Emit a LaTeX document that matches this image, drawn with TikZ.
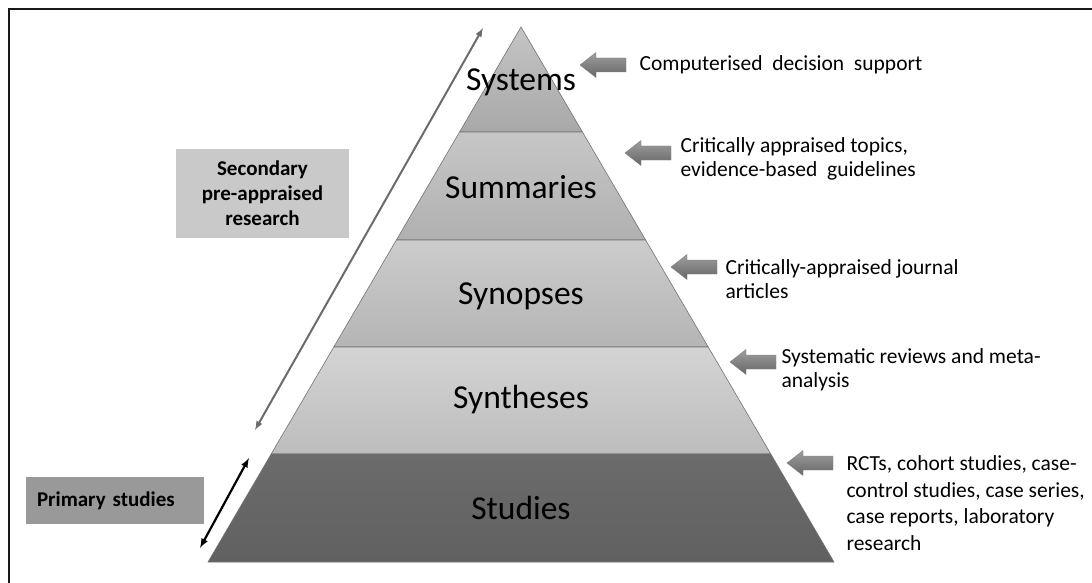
\documentclass[tikz,border=0pt]{standalone}
\usepackage{fontspec}
\setmainfont{Carlito}
\begin{document}
\begin{tikzpicture}[x=1pt,y=-1pt,>=latex,
  layerlabel/.style={font=\fontsize{33.5}{34}\selectfont},
  sidetext/.style={anchor=west,align=left,font=\fontsize{21.5}{24}\selectfont},
  graybox/.style={font=\bfseries\fontsize{21}{25}\selectfont,align=center}]
\useasboundingbox (0,0) rectangle (1092,583);
\draw[line width=2.5pt,color=black!90] (9,583) -- (9,9) -- (1092,9);
% pyramid layers, apex at (521,27)
\foreach \yt/\yb/\ct/\cb in {27/132/23/34,132/240/22/31,240/347/20/29,347/454/17/26,454/562/58/62}{
	\shade[top color=black!\ct,bottom color=black!\cb,draw=black!55,line width=0.6pt]
	  ({521-0.585*(\yt-27)},\yt) -- ({521+0.585*(\yt-27)},\yt)
	  -- ({521+0.585*(\yb-27)},\yb) -- ({521-0.585*(\yb-27)},\yb) -- cycle;
}
\node[layerlabel] (systems) at (521,82) {Systems};
\node[layerlabel] (summaries) at (521,187) {Summaries};
\node[layerlabel] (synopses) at (521,296) {Synopses};
\node[layerlabel] (syntheses) at (521,400) {Syntheses};
\node[layerlabel] (studies) at (521,508) {Studies};
% block arrows
\foreach \tx/\ty in {580/65,625/153,671/267,730/362,787/463}{
	\shade[top color=black!38,bottom color=black!60,draw=black!50,line width=0.4pt]
	  (\tx,\ty) -- ++(16,-12.5) -- ++(0,5.5) -- ++(30,0) -- ++(0,14)
	  -- ++(-30,0) -- ++(0,5.5) -- cycle;
}
\node[sidetext] (tsystems) at (636,65) {Computerised\ \ decision\ \ support};
\node[sidetext] (tsummaries) at (677,158.5) {Critically appraised topics,\\evidence-based\ \ guidelines};
\node[sidetext] (tsynopses) at (722,279.5) {Critically-appraised journal\\articles};
\node[sidetext] (tsyntheses) at (778,370) {Systematic reviews and meta-\\analysis};
\node[sidetext,font=\fontsize{21.5}{26.5}\selectfont] (tstudies) at (843,503) {RCTs, cohort studies, case-\\control studies, case series,\\case reports, laboratory\\research};
% boxes on the left
\node[graybox,fill=black!21,minimum width=173pt,minimum height=89pt] (secondary) at (262.5,193.5) {Secondary\\pre-appraised\\research};
\node[graybox,fill=black!40,minimum width=178pt,minimum height=47pt,
  text width=156pt,inner xsep=11pt,align=left] (primary) at (115,500.5) {Primary\,\,studies};
% range arrows
\coordinate (secTop) at (483,28);
\coordinate (secBot) at (255,430);
\coordinate (priTop) at (249,458);
\coordinate (priBot) at (200,548);
\draw[<->,color=black!58,line width=2pt] (secBot) -- (secTop);
\draw[<->,color=black,line width=2.2pt] (priBot) -- (priTop);
\end{tikzpicture}
\end{document}
